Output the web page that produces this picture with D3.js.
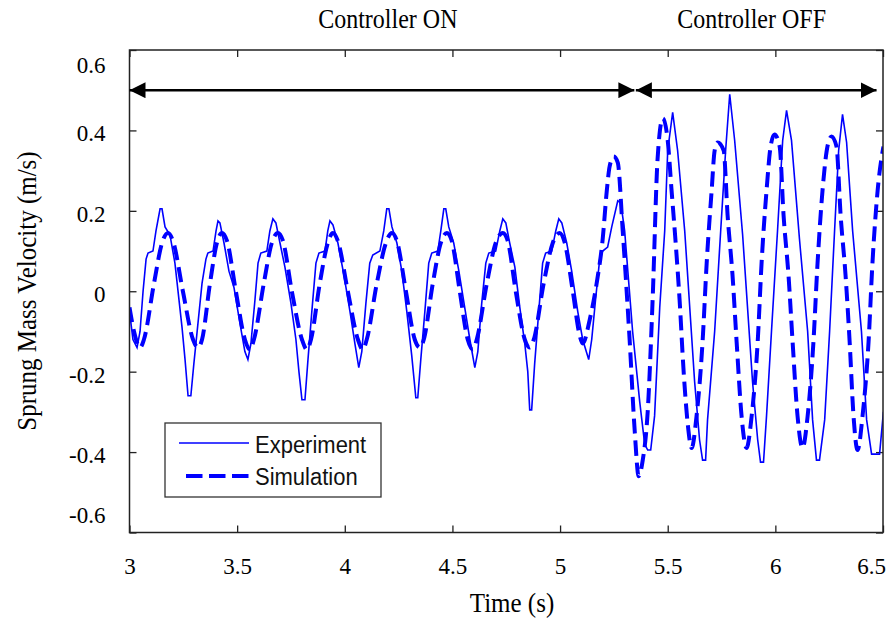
<!DOCTYPE html>
<html>
<head>
<meta charset="utf-8">
<script src="https://cdn.jsdelivr.net/npm/d3@7"></script>
<style>
  body { margin: 0; background: #fff; }
  svg { display: block; }
</style>
</head>
<body>
<div id="plot"></div>
<script>
// measured velocity (m/s) vs time (s)
const expTime = [
  3.000, 3.016, 3.035, 3.049, 3.063, 3.077, 3.086, 3.109, 3.123, 3.142, 3.151, 3.165, 3.188, 3.211,
  3.244, 3.258, 3.272, 3.285, 3.299, 3.318, 3.337, 3.355, 3.364, 3.388, 3.402, 3.411, 3.420, 3.439,
  3.462, 3.485, 3.513, 3.536, 3.550, 3.564, 3.583, 3.597, 3.610, 3.638, 3.652, 3.666, 3.680, 3.699,
  3.722, 3.750, 3.773, 3.787, 3.801, 3.815, 3.829, 3.847, 3.866, 3.880, 3.908, 3.921, 3.931, 3.945,
  3.968, 3.996, 4.024, 4.047, 4.065, 4.079, 4.098, 4.116, 4.130, 4.163, 4.181, 4.195, 4.205, 4.219,
  4.242, 4.265, 4.288, 4.311, 4.330, 4.339, 4.353, 4.372, 4.390, 4.404, 4.432, 4.446, 4.460, 4.469,
  4.483, 4.506, 4.530, 4.557, 4.581, 4.604, 4.618, 4.636, 4.655, 4.669, 4.701, 4.720, 4.734, 4.748,
  4.766, 4.790, 4.813, 4.836, 4.850, 4.859, 4.868, 4.882, 4.901, 4.919, 4.933, 4.961, 4.980, 4.994,
  5.008, 5.031, 5.054, 5.082, 5.105, 5.133, 5.147, 5.165, 5.184, 5.198, 5.221, 5.240, 5.268, 5.282,
  5.300, 5.337, 5.370, 5.393, 5.407, 5.421, 5.439, 5.463, 5.486, 5.500, 5.523, 5.546, 5.579, 5.625,
  5.648, 5.662, 5.676, 5.685, 5.718, 5.746, 5.769, 5.788, 5.811, 5.848, 5.894, 5.918, 5.931, 5.945,
  5.959, 5.982, 6.010, 6.034, 6.052, 6.075, 6.112, 6.150, 6.173, 6.191, 6.205, 6.229, 6.252, 6.275,
  6.294, 6.312, 6.331, 6.359, 6.400, 6.424, 6.447, 6.484, 6.502
];
const expVel = [
  -0.05, -0.12, -0.14, -0.10, 0.00, 0.08, 0.095, 0.10, 0.15, 0.205, 0.205, 0.16, 0.14, 0.07,
  -0.09, -0.17, -0.26, -0.26, -0.18, -0.08, 0.02, 0.08, 0.095, 0.10, 0.15, 0.175, 0.17, 0.12,
  0.05, 0.01, -0.08, -0.15, -0.17, -0.13, -0.02, 0.07, 0.095, 0.10, 0.15, 0.18, 0.17, 0.12,
  0.06, -0.03, -0.12, -0.20, -0.27, -0.27, -0.17, -0.05, 0.07, 0.095, 0.10, 0.15, 0.175, 0.165,
  0.12, 0.04, -0.05, -0.13, -0.19, -0.15, -0.03, 0.07, 0.09, 0.10, 0.15, 0.205, 0.205, 0.16,
  0.12, 0.05, -0.05, -0.16, -0.265, -0.265, -0.17, -0.05, 0.07, 0.095, 0.10, 0.15, 0.205, 0.205,
  0.16, 0.12, 0.05, -0.04, -0.12, -0.19, -0.15, -0.03, 0.07, 0.095, 0.10, 0.15, 0.18, 0.17,
  0.12, 0.06, -0.04, -0.13, -0.20, -0.295, -0.295, -0.18, -0.05, 0.07, 0.095, 0.10, 0.15, 0.18,
  0.17, 0.12, 0.05, -0.05, -0.12, -0.17, -0.12, -0.02, 0.08, 0.10, 0.11, 0.16, 0.225, 0.22,
  0.15, -0.10, -0.275, -0.38, -0.395, -0.395, -0.31, -0.04, 0.15, 0.35, 0.445, 0.35, 0.15, -0.225,
  -0.37, -0.42, -0.42, -0.32, -0.10, 0.15, 0.35, 0.49, 0.375, 0.14, -0.225, -0.37, -0.425, -0.425,
  -0.31, -0.10, 0.15, 0.375, 0.45, 0.375, 0.13, -0.10, -0.32, -0.42, -0.42, -0.32, -0.10, 0.15,
  0.35, 0.44, 0.37, 0.15, -0.10, -0.32, -0.405, -0.405, -0.30
];

// simulated velocity (m/s) vs time (s)
const simTime = [
  3.000, 3.021, 3.049, 3.067, 3.114, 3.151, 3.179, 3.202, 3.248, 3.295, 3.318, 3.337, 3.374, 3.406,
  3.429, 3.453, 3.494, 3.536, 3.559, 3.578, 3.624, 3.661, 3.689, 3.713, 3.754, 3.801, 3.824, 3.843,
  3.884, 3.921, 3.945, 3.968, 4.014, 4.061, 4.084, 4.102, 4.149, 4.191, 4.219, 4.242, 4.284, 4.325,
  4.349, 4.367, 4.409, 4.446, 4.474, 4.497, 4.534, 4.571, 4.595, 4.613, 4.660, 4.701, 4.734, 4.757,
  4.794, 4.836, 4.859, 4.878, 4.924, 4.966, 4.998, 5.022, 5.059, 5.091, 5.105, 5.138, 5.170, 5.198,
  5.217, 5.230, 5.249, 5.268, 5.291, 5.323, 5.347, 5.365, 5.384, 5.407, 5.430, 5.453, 5.477, 5.500,
  5.518, 5.537, 5.555, 5.574, 5.593, 5.611, 5.634, 5.662, 5.681, 5.704, 5.718, 5.732, 5.760, 5.778,
  5.801, 5.820, 5.843, 5.866, 5.890, 5.918, 5.936, 5.959, 5.978, 5.996, 6.020, 6.038, 6.061, 6.080,
  6.103, 6.126, 6.150, 6.177, 6.196, 6.219, 6.242, 6.261, 6.284, 6.303, 6.326, 6.345, 6.363, 6.382,
  6.405, 6.433, 6.451, 6.475, 6.502
];
const simVel = [
  -0.04, -0.10, -0.14, -0.12, 0.02, 0.12, 0.145, 0.125, 0.00, -0.12, -0.14, -0.12, 0.02, 0.12,
  0.145, 0.125, 0.00, -0.12, -0.145, -0.12, 0.02, 0.12, 0.145, 0.125, 0.00, -0.12, -0.145, -0.12,
  0.02, 0.12, 0.145, 0.125, 0.00, -0.12, -0.145, -0.12, 0.02, 0.12, 0.145, 0.125, 0.00, -0.12,
  -0.14, -0.12, 0.02, 0.12, 0.145, 0.125, 0.00, -0.12, -0.145, -0.12, 0.02, 0.12, 0.145, 0.125,
  0.00, -0.12, -0.14, -0.12, 0.02, 0.12, 0.145, 0.12, 0.00, -0.11, -0.13, -0.07, 0.02, 0.13,
  0.25, 0.31, 0.335, 0.32, 0.15, -0.12, -0.35, -0.46, -0.42, -0.30, -0.02, 0.33, 0.43, 0.375,
  0.25, 0.12, -0.02, -0.20, -0.33, -0.39, -0.31, -0.125, 0.07, 0.25, 0.35, 0.37, 0.35, 0.19,
  0.04, -0.125, -0.31, -0.39, -0.31, -0.125, 0.07, 0.25, 0.36, 0.39, 0.36, 0.19, 0.04, -0.125,
  -0.31, -0.39, -0.31, -0.125, 0.07, 0.25, 0.36, 0.385, 0.36, 0.19, 0.04, -0.125, -0.31, -0.395,
  -0.31, -0.125, 0.07, 0.25, 0.36
];

const seriesNames = ["Experiment", "Simulation"];
const xTicks = [3, 3.5, 4, 4.5, 5, 5.5, 6, 6.5];
const yTicks = [-0.6, -0.4, -0.2, 0, 0.2, 0.4, 0.6];

// controller phases: arrow spans (s) at velocity 0.5, label centre (s)
const phaseLabels = ["Controller ON", "Controller OFF"];
const phaseStart = [3.0, 5.352];
const phaseEnd = [5.345, 6.47];
const phaseLabelAt = [4.2, 5.89];
const arrowLevel = 0.5;

// Set up the SVG container
const margin = { top: 50, right: 7, bottom: 85.5, left: 129.5 };
const width = 890 - margin.left - margin.right;
const height = 618 - margin.top - margin.bottom;
const blue = "#0000ff";
const serif = "'Liberation Serif', 'Times New Roman', serif";
const sans = "'Liberation Sans', Arial, sans-serif";
const stretch = 1.12; // the source figure's text is slightly tall

const root = d3.select("#plot").append("svg")
  .attr("width", 890)
  .attr("height", 618)
  .style("background", "#fff");

const svg = root.append("g")
  .attr("transform", "translate(" + margin.left + "," + margin.top + ")");

// Create scales
const xScale = d3.scaleLinear().domain([3, 6.5]).range([0, width]);
const yScale = d3.scaleLinear().domain([-0.6, 0.6]).range([height, 0]);

svg.append("clipPath").attr("id", "clip")
  .append("rect").attr("width", width).attr("height", height);

const fmt = d => String(d);

// Axes, ticks pointing inward on all four sides
const xAxis = svg.append("g")
  .attr("transform", "translate(0," + height + ")")
  .call(d3.axisBottom(xScale).tickValues(xTicks).tickSize(-7).tickPadding(25).tickFormat(fmt));
xAxis.selectAll("text").filter(d => d === 6.5).attr("x", -12);

const yAxis = svg.append("g")
  .call(d3.axisLeft(yScale).tickValues(yTicks).tickSize(-7).tickPadding(24).tickFormat(fmt));
yAxis.selectAll("text").attr("y", d => d === 0.6 ? 15 : d === -0.6 ? -17 : 3);

[xAxis, yAxis].forEach(ax => ax
  .attr("font-family", serif)
  .attr("font-size", 23));

svg.append("g")
  .call(d3.axisTop(xScale).tickValues(xTicks).tickSize(-7).tickFormat(""));
svg.append("g")
  .attr("transform", "translate(" + width + ",0)")
  .call(d3.axisRight(yScale).tickValues(yTicks).tickSize(-7).tickFormat(""));

svg.selectAll(".domain").remove();
svg.selectAll(".tick line").attr("stroke", "#222").attr("stroke-width", 1.3);
svg.selectAll(".tick text")
  .attr("fill", "#000")
  .attr("font-family", serif)
  .style("font-family", serif)
  .style("font-size", "23px");

// Create the lines
const line = d3.line()
  .x(d => xScale(d.x))
  .y(d => yScale(d.y));

const expData = expTime.map((t, i) => ({ x: t, y: expVel[i] }));
const simData = simTime.map((t, i) => ({ x: t, y: simVel[i] }));

const plotArea = svg.append("g").attr("clip-path", "url(#clip)");

plotArea.append("path")
  .data([expData])
  .attr("d", line)
  .attr("fill", "none")
  .attr("stroke", blue)
  .attr("stroke-width", 1.6);

plotArea.append("path")
  .data([simData])
  .attr("d", line.curve(d3.curveMonotoneX))
  .attr("fill", "none")
  .attr("stroke", blue)
  .attr("stroke-width", 4)
  .attr("stroke-dasharray", "15,7");

// Frame
svg.append("rect")
  .attr("width", width)
  .attr("height", height)
  .attr("fill", "none")
  .attr("stroke", "#222")
  .attr("stroke-width", 1.5);

// Phase arrows
const defs = root.append("defs");
defs.append("marker")
  .attr("id", "head")
  .attr("markerUnits", "userSpaceOnUse")
  .attr("viewBox", "0 0 16 16")
  .attr("refX", 16).attr("refY", 8)
  .attr("markerWidth", 16).attr("markerHeight", 16)
  .attr("orient", "auto-start-reverse")
  .append("path")
  .attr("d", "M0,0 L16,8 L0,16 Z")
  .attr("fill", "#000");

function tallText(parent, x, y, txt, font, size, anchor) {
  return parent.append("text")
    .attr("transform", "translate(" + x + "," + y + ") scale(1," + stretch + ")")
    .attr("text-anchor", anchor || "start")
    .attr("font-family", font)
    .attr("font-size", size)
    .attr("fill", "#000")
    .text(txt);
}

phaseLabels.forEach((label, i) => {
  svg.append("line")
    .attr("x1", xScale(phaseStart[i]))
    .attr("x2", xScale(phaseEnd[i]))
    .attr("y1", yScale(arrowLevel))
    .attr("y2", yScale(arrowLevel))
    .attr("stroke", "#000")
    .attr("stroke-width", 2.5)
    .attr("marker-start", "url(#head)")
    .attr("marker-end", "url(#head)");

  tallText(root, margin.left + xScale(phaseLabelAt[i]), 28, label, serif, 24, "middle");
});

// Legend
const legend = root.append("g").attr("transform", "translate(165,423)");
legend.append("rect")
  .attr("width", 216).attr("height", 74)
  .attr("fill", "#fff")
  .attr("stroke", "#333")
  .attr("stroke-width", 1.3);
legend.append("line")
  .attr("x1", 14).attr("x2", 84).attr("y1", 20).attr("y2", 20)
  .attr("stroke", blue).attr("stroke-width", 1.6);
legend.append("line")
  .attr("x1", 21).attr("x2", 84).attr("y1", 53).attr("y2", 53)
  .attr("stroke", blue).attr("stroke-width", 4)
  .attr("stroke-dasharray", "16.5,6.5");
seriesNames.forEach((name, i) => {
  tallText(legend, 90, 30 + i * 32, name, sans, 22).attr("fill", "#111");
});

// Axis titles
tallText(root, 512, 612, "Time (s)", serif, 25, "middle");

root.append("text")
  .attr("transform", "translate(36,291) rotate(-90) scale(1," + stretch + ")")
  .attr("text-anchor", "middle")
  .attr("font-family", serif)
  .attr("font-size", 25)
  .text("Sprung Mass Velocity (m/s)");
</script>
</body>
</html>
